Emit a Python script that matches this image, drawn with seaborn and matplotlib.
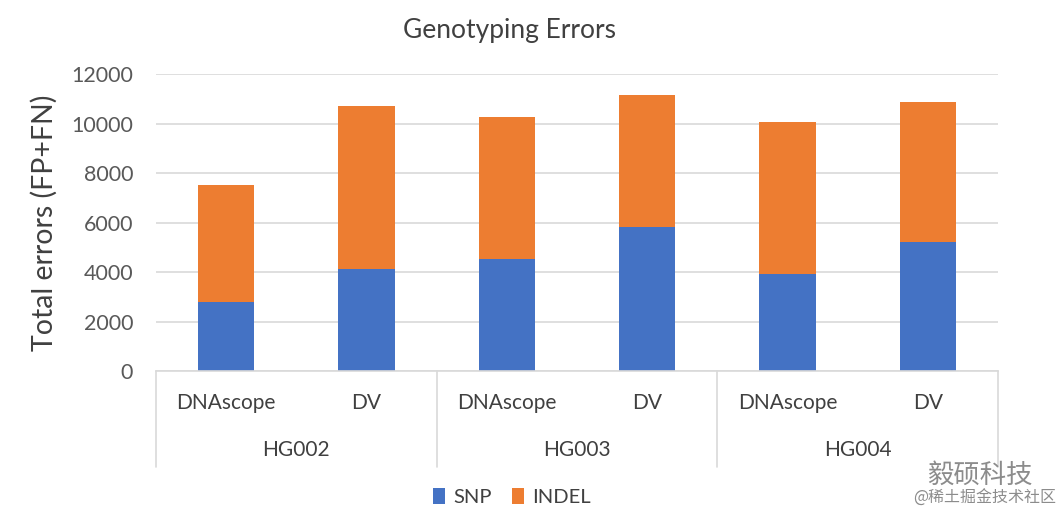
import pandas as pd
import seaborn as sns
import matplotlib.pyplot as plt

samples = ['HG002', 'HG002', 'HG003', 'HG003', 'HG004', 'HG004']
callers = ['DNAscope', 'DV', 'DNAscope', 'DV', 'DNAscope', 'DV']
snp = [2800, 4110, 4520, 5820, 3920, 5210]
indel = [4700, 6610, 5740, 5340, 6140, 5650]
groups = ['HG002', 'HG003', 'HG004']

df = pd.DataFrame({'sample': samples, 'caller': callers, 'SNP': snp, 'INDEL': indel})
df['key'] = df['sample'] + ' ' + df['caller']
df['total'] = df['SNP'] + df['INDEL']

blue = '#4472C4'
orange = '#ED7D31'
grid_c = '#D9D9D9'
txt = '#404040'

sns.set_style('white')
plt.rcParams['font.family'] = ['Lato', 'DejaVu Sans']

fig = plt.figure(figsize=(10.58, 5.28), dpi=100)
ax = fig.add_axes([0.1474, 0.2973, 0.7959, 0.5625])

sns.barplot(data=df, x='key', y='total', color=orange, width=0.4, saturation=1, ax=ax,
            label='INDEL', linewidth=0)
sns.barplot(data=df, x='key', y='SNP', color=blue, width=0.4, saturation=1, ax=ax,
            label='SNP', linewidth=0)

ax.set_ylim(0, 12000)
ax.set_xlim(-0.5, 5.5)
ax.set_yticks(range(0, 12001, 2000))
ax.yaxis.grid(True, color=grid_c, lw=1.2)
ax.set_axisbelow(True)
for s in ['top', 'right', 'left']:
    ax.spines[s].set_visible(False)
ax.spines['bottom'].set_color(grid_c)
ax.spines['bottom'].set_linewidth(1.2)
ax.tick_params(axis='y', length=0, labelsize=15.5, labelcolor='#595959', pad=16.5)
ax.set_xticks([])
ax.set_xlabel('')
ax.set_ylabel('Total errors (FP+FN)', fontsize=20.5, color=txt)
ax.yaxis.set_label_coords(-0.117, 0.5)

trans = ax.get_xaxis_transform()
for i, c in enumerate(callers):
    ax.text(i, -0.108, c, transform=trans, ha='center', va='center', fontsize=15, color=txt)
for j, g in enumerate(groups):
    ax.text(2 * j + 0.5, -0.266, g, transform=trans, ha='center', va='center', fontsize=15, color=txt)
for xb in [-0.5, 1.5, 3.5, 5.5]:
    ax.plot([xb, xb], [0, -0.323], transform=trans, color=grid_c, lw=1.2, clip_on=False)

fig.text(0.482, 0.943, 'Genotyping Errors', fontsize=19, color=txt, ha='center', va='center')

handles, labels = ax.get_legend_handles_labels()
order = [labels.index('SNP'), labels.index('INDEL')]
ax.legend([handles[k] for k in order], [labels[k] for k in order], loc='center',
          bbox_to_anchor=(0.484, 0.0587), bbox_transform=fig.transFigure, ncol=2,
          frameon=False, handlelength=0.6, handleheight=0.8, handletextpad=0.4,
          columnspacing=1.0, fontsize=14.5, labelcolor=txt)

fig.text(0.926, 0.1, '毅硕科技', fontsize=19, color='#8C8C8C', ha='center', va='center',
         family=['Noto Sans CJK SC', 'DejaVu Sans'])
fig.text(0.931, 0.056, '@稀土掘金技术社区', fontsize=11.5, color='#8C8C8C', ha='center', va='center',
         family=['Noto Sans CJK SC', 'DejaVu Sans'])

fig.savefig('out.png', dpi=100)
